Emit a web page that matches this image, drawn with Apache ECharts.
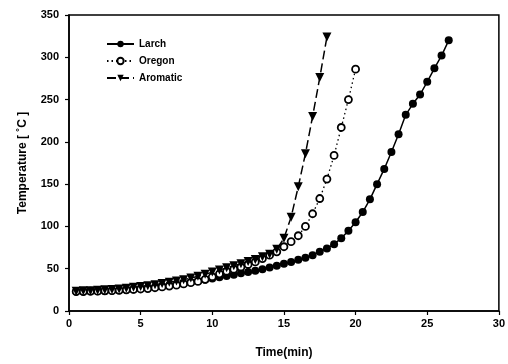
<!DOCTYPE html>
<html>
<head>
<meta charset="utf-8">
<script src="https://cdn.jsdelivr.net/npm/echarts@6/dist/echarts.min.js"></script>
<style>html,body{margin:0;padding:0;background:#fff}#c{width:508px;height:364px}</style>
</head>
<body>
<div id="c"></div>
<script>
const larchTime = [0.5,1,1.5,2,2.5,3,3.5,4,4.5,5,5.5,6,6.5,7,7.5,8,8.5,9,9.5,10,10.5,11,11.5,12,12.5,13,13.5,14,14.5,15,15.5,16,16.5,17,17.5,18,18.5,19,19.5,20,20.5,21,21.5,22,22.5,23,23.5,24,24.5,25,25.5,26,26.5];
const larchTemp = [23,23,23,23.5,23.5,24,24.5,25,25.5,26.5,27.5,28.5,29.5,30.5,31.5,32.5,34,35.5,37,38.5,40,41.5,43,44.5,46,47.5,49.5,51.5,53.5,56,58,60.5,63,66,70,74,79,86,95,105,117,132,150,168,188,209,232,245,256,271,287,302,320];
const oregonTime = [0.5,1,1.5,2,2.5,3,3.5,4,4.5,5,5.5,6,6.5,7,7.5,8,8.5,9,9.5,10,10.5,11,11.5,12,12.5,13,13.5,14,14.5,15,15.5,16,16.5,17,17.5,18,18.5,19,19.5,20];
const oregonTemp = [23,23,23.5,23.5,24,24,24.5,25,25.5,26,26.5,27.5,28.5,29.5,30.5,32,33.5,35,37.5,40.5,44,47,49.5,52,55,58,62,66,70,76,82,89,100,115,133,156,184,217,250,286];
const aromaticTime = [0.5,1,1.5,2,2.5,3,3.5,4,4.5,5,5.5,6,6.5,7,7.5,8,8.5,9,9.5,10,10.5,11,11.5,12,12.5,13,13.5,14,14.5,15,15.5,16,16.5,17,17.5,18];
const aromaticTemp = [23.5,24,24,24.5,25,25.5,26,27,28,29,30,31,32.5,34,35.5,37,39,41,43.5,46,48.5,51,53.5,56,58.5,61,64,67,73,86,111,147,186,230,276,324];
const seriesNames = ['Larch','Oregon','Aromatic'];
const xTicks = {min:0, max:30, interval:5};
const yTicks = {min:0, max:350, interval:50};

function pairs(t, v){ return t.map((x,i)=>[x, v[i]]); }

const font = 'Arial, "Liberation Sans", sans-serif';
const chart = echarts.init(document.getElementById('c'), null, {renderer:'canvas'});
chart.setOption({
  backgroundColor:'#fff',
  animation:false,
  grid:{left:69, top:15, width:432, height:296, show:true, borderColor:'#000', borderWidth:1.5, containLabel:false},
  legend:{
    orient:'vertical', left:106, top:39, padding:0, itemWidth:27, itemHeight:8, itemGap:7,
    textStyle:{fontFamily:font, fontSize:10, fontWeight:'bold', color:'#000'},
    data:seriesNames
  },
  xAxis:{
    type:'value', min:xTicks.min, max:xTicks.max, interval:xTicks.interval,
    name:'Time(min)', nameLocation:'middle', nameGap:36,
    nameTextStyle:{fontFamily:font, fontSize:12, fontWeight:'bold', color:'#000'},
    axisLine:{lineStyle:{color:'#000', width:1.5}},
    axisTick:{show:true, inside:false, length:4, lineStyle:{color:'#000', width:1.2}},
    axisLabel:{fontFamily:font, fontSize:11, fontWeight:'bold', color:'#000', margin:7},
    splitLine:{show:false}
  },
  yAxis:{
    type:'value', min:yTicks.min, max:yTicks.max, interval:yTicks.interval,
    name:'Temperature [ \u02DAC ]', nameLocation:'middle', nameGap:40, nameRotate:90,
    nameTextStyle:{fontFamily:font, fontSize:12, fontWeight:'bold', color:'#000'},
    axisLine:{lineStyle:{color:'#000', width:1.5}},
    axisTick:{show:true, inside:false, length:4, lineStyle:{color:'#000', width:1.2}},
    axisLabel:{fontFamily:font, fontSize:11, fontWeight:'bold', color:'#000', margin:10},
    splitLine:{show:false}
  },
  series:[
    {name:seriesNames[0], type:'line', data:pairs(larchTime, larchTemp),
     symbol:'circle', symbolSize:8, itemStyle:{color:'#000'},
     lineStyle:{color:'#000', width:1.5, type:'solid'}},
    {name:seriesNames[1], type:'line', data:pairs(oregonTime, oregonTemp),
     symbol:'circle', symbolSize:7, itemStyle:{color:'#fff', borderColor:'#000', borderWidth:1.8},
     lineStyle:{color:'#000', width:1.3, type:[1.5,3]}},
    {name:seriesNames[2], type:'line', data:pairs(aromaticTime, aromaticTemp),
     symbol:'triangle', symbolRotate:180, symbolSize:9, itemStyle:{color:'#000'},
     lineStyle:{color:'#000', width:1.5, type:[9,4]}}
  ]
});
</script>
</body>
</html>
